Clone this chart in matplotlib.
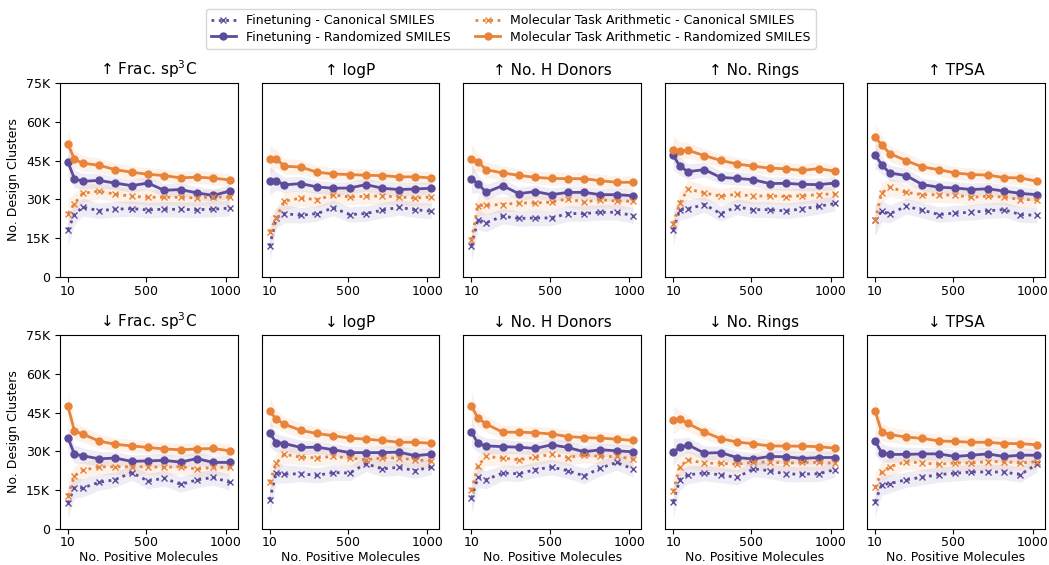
import numpy as np
import matplotlib
matplotlib.use("Agg")
import matplotlib.pyplot as plt
from matplotlib.ticker import FuncFormatter

# number of positive molecules (x axis)
n_pos = [10, 51, 102, 205, 307, 410, 512, 614, 717, 819, 922, 1024]

titles = ["↑ Frac. sp$^3$C", "↑ logP", "↑ No. H Donors", "↑ No. Rings", "↑ TPSA",
          "↓ Frac. sp$^3$C", "↓ logP", "↓ No. H Donors", "↓ No. Rings", "↓ TPSA"]

# values in thousands of design clusters
# finetuning, canonical SMILES
ft_can = [
    [18.2, 24.0, 27.0, 25.6, 26.2, 26.4, 25.9, 26.2, 26.1, 26.0, 26.2, 26.6],
    [11.9, 22.8, 24.5, 23.8, 24.5, 26.7, 24.1, 24.5, 25.8, 26.9, 26.0, 25.4],
    [12.1, 22.2, 20.9, 23.5, 22.6, 22.8, 22.8, 24.5, 24.5, 25.0, 25.0, 23.7],
    [18.3, 26.0, 26.3, 28.0, 24.5, 27.1, 26.0, 26.0, 25.5, 26.3, 27.3, 28.4],
    [21.9, 25.4, 24.4, 27.3, 25.8, 24.1, 24.7, 25.0, 25.6, 26.0, 24.1, 23.8],
    [10.0, 15.8, 15.8, 18.0, 19.0, 21.8, 18.5, 19.6, 17.2, 18.9, 19.9, 18.0],
    [11.3, 21.6, 21.2, 21.3, 20.7, 21.8, 21.6, 25.2, 23.2, 23.8, 22.5, 24.0],
    [11.9, 20.0, 19.0, 21.6, 21.3, 22.9, 23.9, 22.5, 20.5, 23.5, 25.7, 23.1],
    [10.5, 19.0, 20.9, 21.6, 20.9, 19.9, 23.2, 22.5, 21.2, 21.2, 21.3, 22.9],
    [10.5, 17.0, 17.5, 19.0, 20.0, 21.0, 21.5, 22.0, 22.0, 22.0, 21.0, 25.0],
]
# finetuning, randomized SMILES
ft_rand = [
    [44.5, 38.0, 37.0, 37.3, 36.3, 35.3, 36.3, 33.5, 33.8, 32.5, 31.5, 33.2],
    [37.0, 37.1, 35.6, 36.1, 34.8, 34.3, 34.4, 35.7, 34.3, 33.8, 34.0, 34.3],
    [37.9, 36.1, 32.7, 35.3, 32.2, 33.0, 31.8, 32.7, 32.7, 31.8, 31.8, 31.4],
    [47.0, 42.8, 40.7, 41.5, 38.5, 38.1, 37.6, 36.1, 36.2, 35.8, 35.7, 36.3],
    [47.3, 43.4, 40.2, 39.2, 35.7, 34.7, 34.4, 33.8, 34.1, 33.2, 32.3, 31.8],
    [35.3, 28.9, 28.3, 27.1, 27.4, 26.1, 26.3, 26.5, 25.8, 27.2, 25.7, 25.7],
    [37.0, 33.4, 33.0, 31.5, 31.6, 30.6, 29.5, 29.5, 29.5, 29.7, 28.3, 28.9],
    [37.4, 33.1, 32.1, 31.8, 31.6, 31.1, 32.5, 31.5, 29.8, 30.6, 30.2, 29.8],
    [29.7, 31.5, 32.5, 29.3, 29.5, 27.6, 27.0, 28.0, 27.9, 27.2, 27.6, 27.6],
    [34.0, 29.5, 28.8, 28.8, 29.0, 29.0, 28.0, 28.5, 29.0, 28.0, 28.5, 28.5],
]
# molecular task arithmetic, canonical SMILES
mta_can = [
    [24.5, 28.3, 32.3, 33.2, 32.0, 31.2, 30.8, 30.8, 30.8, 30.5, 31.0, 30.8],
    [17.4, 22.8, 29.3, 30.5, 29.9, 31.7, 30.9, 31.2, 31.3, 30.9, 30.5, 30.9],
    [14.4, 27.6, 27.7, 28.0, 28.6, 28.6, 28.9, 30.2, 28.9, 29.9, 29.3, 29.3],
    [20.6, 28.6, 34.0, 32.5, 31.2, 32.0, 31.2, 31.4, 31.1, 31.4, 31.8, 32.2],
    [21.9, 32.5, 34.7, 32.7, 31.8, 31.8, 31.6, 30.8, 31.2, 30.9, 29.9, 29.9],
    [12.8, 20.5, 22.6, 24.0, 24.0, 24.0, 24.0, 23.8, 24.1, 23.1, 23.8, 23.8],
    [18.0, 25.4, 28.9, 27.7, 27.5, 28.0, 27.4, 26.7, 27.4, 27.4, 26.7, 26.3],
    [14.9, 24.5, 28.0, 27.4, 26.7, 27.7, 28.9, 27.6, 28.6, 28.0, 28.0, 27.0],
    [14.5, 24.1, 26.7, 25.4, 25.4, 25.0, 25.8, 25.9, 25.4, 25.7, 25.7, 25.4],
    [16.0, 22.0, 24.0, 26.0, 25.5, 25.0, 25.5, 25.5, 26.0, 26.0, 25.5, 26.0],
]
# molecular task arithmetic, randomized SMILES
mta_rand = [
    [51.5, 45.5, 44.0, 43.2, 41.5, 40.5, 39.7, 39.2, 38.3, 38.6, 38.2, 37.5],
    [45.6, 45.7, 42.8, 42.5, 40.5, 39.8, 39.6, 39.3, 39.2, 38.7, 38.7, 38.3],
    [45.6, 44.5, 41.5, 40.2, 39.3, 38.5, 38.1, 38.0, 38.0, 37.2, 36.6, 36.6],
    [49.0, 48.8, 49.0, 46.9, 45.1, 43.7, 42.8, 42.1, 41.8, 41.2, 41.9, 40.9],
    [54.0, 51.2, 47.7, 45.0, 42.5, 41.5, 40.2, 39.6, 39.4, 38.4, 38.3, 37.0],
    [47.5, 37.9, 36.7, 34.0, 32.7, 32.1, 31.5, 30.9, 30.6, 30.9, 31.1, 30.2],
    [45.6, 42.4, 40.5, 38.1, 36.9, 36.0, 35.1, 34.7, 34.2, 33.5, 33.5, 33.1],
    [47.5, 42.8, 40.6, 37.4, 37.4, 37.2, 36.7, 35.7, 35.3, 35.1, 34.7, 34.2],
    [42.1, 42.4, 40.8, 37.5, 34.9, 33.6, 32.9, 32.1, 32.0, 32.0, 31.8, 31.2],
    [45.6, 37.5, 36.5, 35.5, 35.0, 34.0, 33.8, 33.5, 33.5, 33.0, 33.0, 32.5],
]
# half width of the shaded bands (thousands)
band_rand = [5.5, 3.5, 3.0, 2.8, 2.5, 2.5, 2.5, 2.5, 2.5, 2.5, 2.5, 2.5]
band_can = [6.0, 4.0, 3.5, 3.0, 3.0, 3.0, 3.0, 3.0, 3.0, 3.0, 3.0, 3.0]

purple = "#5e4c9b"
orange = "#e8833a"

x = np.array(n_pos)

fig, axes = plt.subplots(2, 5, figsize=(10.49, 5.65), dpi=100, sharey=True)
fig.subplots_adjust(left=0.057, right=0.996, top=0.853, bottom=0.064,
                    wspace=0.135, hspace=0.30)

for i, ax in enumerate(axes.flat):
    series = [
        (ft_can[i], band_can, purple, ":", "x", "Finetuning - Canonical SMILES"),
        (ft_rand[i], band_rand, purple, "-", "o", "Finetuning - Randomized SMILES"),
        (mta_can[i], band_can, orange, ":", "x", "Molecular Task Arithmetic - Canonical SMILES"),
        (mta_rand[i], band_rand, orange, "-", "o", "Molecular Task Arithmetic - Randomized SMILES"),
    ]
    for vals, band, col, ls, mk, lab in series:
        y = np.array(vals) * 1000
        b = np.array(band) * 1000
        ax.fill_between(x, y - b, y + b, color=col, alpha=0.1, linewidth=0)
        ax.plot(x, y, color=col, linestyle=ls, marker=mk, markersize=5,
                linewidth=2.0, label=lab)
    ax.set_title(titles[i], fontsize=11)
    ax.set_ylim(0, 75000)
    ax.set_yticks(np.arange(0, 75001, 15000))
    ax.yaxis.set_major_formatter(FuncFormatter(lambda v, p: "0" if v == 0 else f"{int(v/1000)}K"))
    ax.set_xticks([10, 500, 1000])
    ax.tick_params(labelsize=9)
    ax.tick_params(axis="x", pad=2)
    if i % 5 != 0:
        ax.tick_params(left=False, labelleft=False)
    else:
        ax.set_ylabel("No. Design Clusters", fontsize=9)
    if i >= 5:
        ax.set_xlabel("No. Positive Molecules", fontsize=9, labelpad=1)

handles, labels = axes[0, 0].get_legend_handles_labels()
fig.legend(handles, labels, loc="upper center", bbox_to_anchor=(0.487, 0.995),
           ncol=2, fontsize=9, frameon=True, handlelength=2.0, columnspacing=2.0,
           borderpad=0.4, labelspacing=0.3)

fig.savefig("out.png", dpi=100)
